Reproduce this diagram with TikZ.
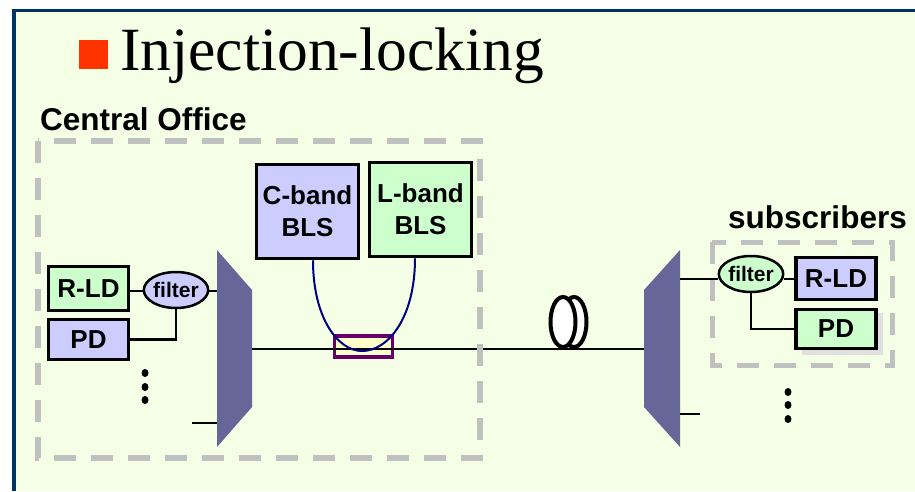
\documentclass[tikz,border=0pt]{standalone}
\usepackage{fontspec}
\setmainfont{Liberation Serif}
\setsansfont{Liberation Sans}
\usetikzlibrary{positioning,shapes.geometric}
\definecolor{slidebg}{HTML}{F5FFE6}
\definecolor{framecol}{HTML}{003366}
\definecolor{bullet}{HTML}{FF3300}
\definecolor{dashcol}{HTML}{C0C0C0}
\definecolor{lilac}{HTML}{CCCCFF}
\definecolor{mint}{HTML}{CCFFCC}
\definecolor{awgcol}{HTML}{666699}
\definecolor{couplecol}{HTML}{660066}
\definecolor{paleyellow}{HTML}{FFFFCC}
\definecolor{bandcol}{HTML}{000080}
\tikzset{
  box/.style={draw=black, line width=3.5pt, inner sep=0pt, align=center, font=\sffamily\bfseries\fontsize{26}{32}\selectfont},
  bigbox/.style={box, minimum width=102pt, minimum height=94pt},
  smallbox/.style={box, minimum width=80pt},
  filterbox/.style={draw=black, ellipse, line width=2.5pt, inner sep=0pt, minimum width=63pt, minimum height=36pt, font=\sffamily\bfseries\fontsize{21}{24}\selectfont},
  head/.style={anchor=base west, inner sep=0pt, font=\sffamily\bfseries\fontsize{31.5}{36}\selectfont},
  link/.style={draw=black, line width=2.5pt},
  dashbox/.style={draw=dashcol, dash pattern=on 22pt off 15pt},
  awg/.style={fill=awgcol},
  coil/.style={draw=black, line width=4pt, fill=white}
}
\begin{document}
\begin{tikzpicture}[x=1pt, y=-1pt]
      \useasboundingbox (0,0) rectangle (915,491);
      \fill [white] (0,0) rectangle (915,491);
      \fill [slidebg] (14,10) rectangle (915,491);
      \draw [framecol, line width=3.5pt] (14,491) -- (14,10.5) -- (915,10.5);

      % title
      \node [fill=bullet, minimum size=29pt, inner sep=0pt] (mark) at (93.5,54.5) {};
      \node [anchor=base west, inner sep=0pt, font=\fontsize{61.5}{66}\selectfont] (title) at (120,70) {Injection-locking};

      % central office side
      \node [head] (office) at (40,130) {Central Office};
      \fill [awg] (217,250) -- (252,290) -- (252,407) -- (217,447) -- cycle;
      \coordinate (awgLa) at (217,291);
      \coordinate (awgLb) at (217,423);
      \coordinate (awgLc) at (252,349);
      \coordinate (stubL) at (192,423);
      \node [smallbox, fill=mint, minimum height=44pt] (rldL) at (88.5,288.5) {R-LD};
      \node [smallbox, fill=lilac, minimum height=40pt, below of=rldL, node distance=51pt] (pdL) {PD};
      \node [filterbox, fill=lilac] (filterL) at (176,290) {filter};
      \draw [link] (rldL.east |- awgLa) -- (awgLa -| filterL.west);
      \draw [link] (awgLa -| filterL.east) -- (awgLa);
      \draw [link] (pdL.east) -| (filterL.south);
      \draw [link] (stubL) -- (awgLb);
      \foreach \y in {373,387,400}
        \fill [black] (145,\y) ellipse (3.5pt and 4pt);

      % sources
      \node [bigbox, fill=lilac] (cband) at (307.5,211.5) {C-band\\BLS};
      \node [bigbox, fill=mint] (lband) at (420.5,209.5) {L-band\\BLS};
      \node [draw=couplecol, fill=paleyellow, line width=3.5pt, minimum width=58pt, minimum height=21pt, inner sep=0pt] (coupler) at (363.5,346.5) {};
      \coordinate (bend) at (362,351);

      % right side mux
      \fill [awg] (680,250) -- (644,290) -- (644,407) -- (680,447) -- cycle;
      \coordinate (awgRa) at (680,279);
      \coordinate (awgRb) at (680,414);
      \coordinate (awgRc) at (644,349);
      \coordinate (stubR) at (700,414);

      \draw [black, line width=2pt] (awgLc) -- (awgRc);
      \draw [bandcol, line width=2pt] ([xshift=5.5pt]cband.south) .. controls (313,318) and (338,351) .. (bend) .. controls (388,351) and (415,318) .. ([xshift=-5.5pt]lband.south);

      % fiber coil
      \draw [coil] (574,322) ellipse (12.5pt and 25pt);
      \draw [coil] (563,322) ellipse (12.5pt and 25pt);

      \draw [dashbox, line width=6pt] (38,141) rectangle (480,458);

      % subscribers
      \node [head] (subs) at (728,228) {subscribers};
      \draw [dashbox, line width=5pt] (712,242) rectangle (892,365);
      \fill [black!12] (802,313) rectangle (883,355);
      \node [smallbox, fill=lilac, minimum height=42pt] (rldR) at (836,278.5) {R-LD};
      \node [smallbox, fill=mint, minimum height=39pt, below of=rldR, node distance=50.5pt] (pdR) {PD};
      \node [filterbox, fill=mint] (filterR) at (751,274) {filter};
      \draw [link, line width=2pt] (awgRa) -- (awgRa -| filterR.west);
      \draw [link, line width=2pt] (rldR.west -| filterR.east) -- (rldR.west);
      \draw [link, line width=2pt] (filterR.south) |- (pdR.west);
      \draw [link] (awgRb) -- (stubR);
      \foreach \y in {392,405,419}
        \fill [black] (788,\y) ellipse (3.5pt and 4pt);
\end{tikzpicture}
\end{document}
